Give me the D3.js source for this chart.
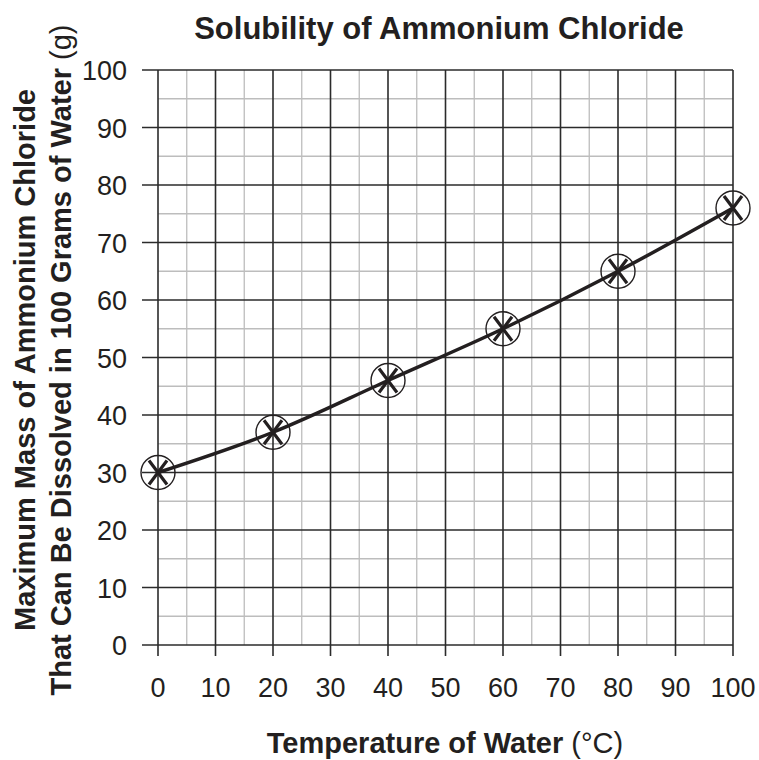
<!DOCTYPE html>
<html>
<head>
<meta charset="utf-8">
<script src="https://cdn.jsdelivr.net/npm/d3@7"></script>
<style>
  body { margin: 0; background: #fff; }
  text { font-family: "Liberation Sans", Arial, Helvetica, sans-serif; fill: #231f20; }
</style>
</head>
<body>
<div id="chart"></div>
<script>
var temps = [0, 20, 40, 60, 80, 100];
var masses = [30, 37, 46, 55, 65, 76];
var xTicks = [0, 10, 20, 30, 40, 50, 60, 70, 80, 90, 100];
var yTicks = [0, 10, 20, 30, 40, 50, 60, 70, 80, 90, 100];

var width = 759, height = 760;
var plotL = 158, plotR = 733, plotT = 70, plotB = 645;

var svg = d3.select("#chart").append("svg")
  .attr("width", width)
  .attr("height", height);

var x = d3.scaleLinear().domain([0, 100]).range([plotL, plotR]);
var y = d3.scaleLinear().domain([0, 100]).range([plotB, plotT]);

// minor grid every 5
var minor = d3.range(5, 100, 10);
svg.append("g").selectAll("line").data(minor).join("line")
  .attr("x1", d => x(d)).attr("x2", d => x(d))
  .attr("y1", plotT).attr("y2", plotB)
  .attr("stroke", "#bdbdbd").attr("stroke-width", 1.3);
svg.append("g").selectAll("line").data(minor).join("line")
  .attr("y1", d => y(d)).attr("y2", d => y(d))
  .attr("x1", plotL).attr("x2", plotR)
  .attr("stroke", "#bdbdbd").attr("stroke-width", 1.3);

// major grid every 10, with ticks sticking out
svg.append("g").selectAll("line").data(xTicks).join("line")
  .attr("x1", d => x(d)).attr("x2", d => x(d))
  .attr("y1", plotT).attr("y2", plotB + 11)
  .attr("stroke", "#2b2b2b").attr("stroke-width", 1.6);
svg.append("g").selectAll("line").data(yTicks).join("line")
  .attr("y1", d => y(d)).attr("y2", d => y(d))
  .attr("x1", plotL - 16).attr("x2", plotR)
  .attr("stroke", "#2b2b2b").attr("stroke-width", 1.6);

// tick labels
svg.append("g").selectAll("text").data(yTicks).join("text")
  .attr("x", 127).attr("y", d => y(d) + 10)
  .attr("text-anchor", "end")
  .style("font-size", "27px")
  .text(d => d);
svg.append("g").selectAll("text").data(xTicks).join("text")
  .attr("x", d => x(d)).attr("y", 697)
  .attr("text-anchor", "middle")
  .style("font-size", "27px")
  .text(d => d);

// curve
var line = d3.line()
  .x((d, i) => x(temps[i]))
  .y(d => y(d))
  .curve(d3.curveMonotoneX);
svg.append("path")
  .attr("d", line(masses))
  .attr("fill", "none")
  .attr("stroke", "#231f20")
  .attr("stroke-width", 3.5);

// markers: circle with an X
var marks = svg.append("g").selectAll("g").data(masses).join("g")
  .attr("transform", (d, i) => "translate(" + x(temps[i]) + "," + y(d) + ")");
marks.append("circle")
  .attr("r", 17)
  .attr("fill", "none")
  .attr("stroke", "#231f20")
  .attr("stroke-width", 1.4);
marks.append("path")
  .attr("d", "M-9,-12L9,12M9,-12L-9,12")
  .attr("stroke", "#231f20")
  .attr("stroke-width", 3.2);

// title
svg.append("text")
  .attr("x", 439).attr("y", 39)
  .attr("text-anchor", "middle")
  .style("font-size", "31px")
  .style("font-weight", "bold")
  .text("Solubility of Ammonium Chloride");

// x label
var xl = svg.append("text")
  .attr("x", 445).attr("y", 753)
  .attr("text-anchor", "middle")
  .style("font-size", "29px");
xl.append("tspan").style("font-weight", "bold").text("Temperature of Water ");
xl.append("tspan").text("(°C)");

// y label, two lines
var yl = svg.append("g").attr("transform", "translate(0,360) rotate(-90)");
yl.append("text")
  .attr("x", 0).attr("y", 35)
  .attr("text-anchor", "middle")
  .style("font-size", "29px")
  .style("font-weight", "bold")
  .text("Maximum Mass of Ammonium Chloride");
var yl2 = yl.append("text")
  .attr("x", 0).attr("y", 71)
  .attr("text-anchor", "middle")
  .style("font-size", "29px");
yl2.append("tspan").style("font-weight", "bold").text("That Can Be Dissolved in 100 Grams of Water ");
yl2.append("tspan").text("(g)");
</script>
</body>
</html>
